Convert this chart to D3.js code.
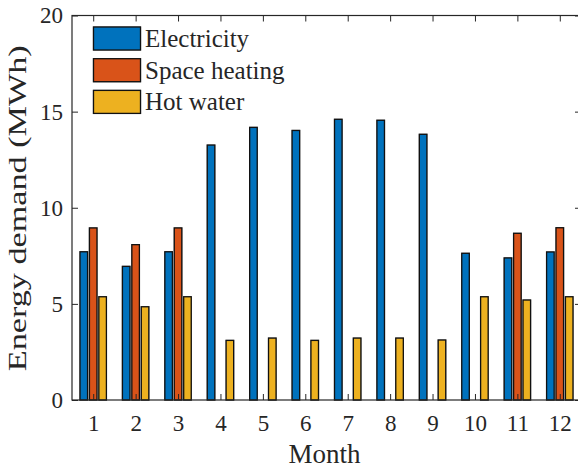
<!DOCTYPE html>
<html>
<head>
<meta charset="utf-8">
<script src="https://cdn.jsdelivr.net/npm/d3@7/dist/d3.min.js"></script>
<style>
  html, body { margin: 0; padding: 0; background: #fff; overflow: hidden; }
  text { font-family: "Liberation Serif", "Times New Roman", serif; fill: #262626; }
</style>
</head>
<body>
<svg id="chart" width="578" height="469"></svg>
<script>
const months = [1, 2, 3, 4, 5, 6, 7, 8, 9, 10, 11, 12];
const seriesNames = ["Electricity", "Space heating", "Hot water"];
const electricity = [7.71, 6.95, 7.71, 13.26, 14.18, 14.02, 14.6, 14.55, 13.82, 7.63, 7.39, 7.70];
const spaceHeating = [8.95, 8.08, 8.95, 0, 0, 0, 0, 0, 0, 0, 8.67, 8.96];
const hotWater = [5.37, 4.85, 5.37, 3.10, 3.22, 3.10, 3.22, 3.22, 3.12, 5.37, 5.20, 5.37];
const yTicks = [0, 5, 10, 15, 20];
const colors = ["#0072BD", "#D95319", "#EDB120"];
const series = [electricity, spaceHeating, hotWater];

const FONT = "'Liberation Serif', 'Times New Roman', serif";
const svg = d3.select("#chart");
const L = 72, R = 581, T = 15.5, B = 400;

const x = d3.scaleLinear().domain([0.5, 12.5]).range([L, R]);
const y = d3.scaleLinear().domain([0, 20]).range([B, T]);

// grouped bar geometry (MATLAB style)
const groupWidth = Math.min(0.8, 3 / (3 + 1.5));
const spacing = groupWidth / 3;
const barW = spacing * 0.8;
const offsets = [-1, 0, 1].map(k => k * spacing);

const barsG = svg.append("g");
series.forEach((vals, si) => {
  barsG.selectAll(null)
    .data(vals.map((v, i) => ({ m: months[i], v })))
    .enter().append("rect")
    .attr("x", d => x(d.m + offsets[si] - barW / 2))
    .attr("width", d => x(d.m + offsets[si] + barW / 2) - x(d.m + offsets[si] - barW / 2))
    .attr("y", d => y(d.v))
    .attr("height", d => y(0) - y(d.v))
    .attr("fill", colors[si])
    .attr("stroke", "#111")
    .attr("stroke-width", 1.3)
    .style("filter", "drop-shadow(0px 0px 0.6px rgba(0,0,0,0.45))");
});

// axes
const tickLen = 6;
const ax = d3.axisBottom(x).tickValues(months).tickFormat(d3.format("d"))
  .tickSizeInner(-tickLen).tickSizeOuter(0).tickPadding(15);
svg.append("g").attr("transform", `translate(0,${B})`).call(ax);
const ay = d3.axisLeft(y).tickValues(yTicks).tickFormat(d3.format("d"))
  .tickSizeInner(-tickLen).tickSizeOuter(0).tickPadding(9);
svg.append("g").attr("transform", `translate(${L},0)`).call(ay);
const axTop = d3.axisTop(x).tickValues(months).tickFormat("")
  .tickSizeInner(-tickLen).tickSizeOuter(0);
svg.append("g").attr("transform", `translate(0,${T})`).call(axTop);
const ayR = d3.axisRight(y).tickValues(yTicks).tickFormat("")
  .tickSizeInner(-tickLen).tickSizeOuter(0);
svg.append("g").attr("transform", `translate(${R},0)`).call(ayR);

svg.selectAll(".domain").remove();
svg.selectAll("g").attr("font-family", null);
svg.selectAll(".tick line").attr("stroke", "#262626").attr("stroke-width", 1);
svg.selectAll(".tick text").style("font-size", "23px").attr("fill", "#262626")
  .style("font-family", FONT);

svg.append("rect").attr("x", L).attr("y", T).attr("width", R - L).attr("height", B - T)
  .attr("fill", "none").attr("stroke", "#262626").attr("stroke-width", 1.2);

// labels
svg.append("text").attr("x", (L + R) / 2 - 2).attr("y", 463)
  .attr("text-anchor", "middle").style("font-size", "27px").style("font-family", FONT)
  .text("Month");
svg.append("text")
  .attr("transform", `translate(26,${(T + B) / 2 + 0.5}) rotate(-90)`)
  .attr("text-anchor", "middle").style("font-size", "25px").style("font-family", FONT)
  .attr("textLength", 326).attr("lengthAdjust", "spacingAndGlyphs")
  .text("Energy demand (MWh)");

// legend
const lg = svg.append("g");
seriesNames.forEach((name, i) => {
  const yy = 27 + i * 31.7;
  lg.append("rect").attr("x", 93.5).attr("y", yy).attr("width", 47).attr("height", 23)
    .attr("fill", colors[i]).attr("stroke", "#111").attr("stroke-width", 1.3)
    .style("filter", "drop-shadow(0px 0px 0.6px rgba(0,0,0,0.45))");
  lg.append("text").attr("x", 145).attr("y", yy + 20)
    .style("font-size", "25px").style("font-family", FONT).attr("fill", "#111").text(name);
});
</script>
</body>
</html>
